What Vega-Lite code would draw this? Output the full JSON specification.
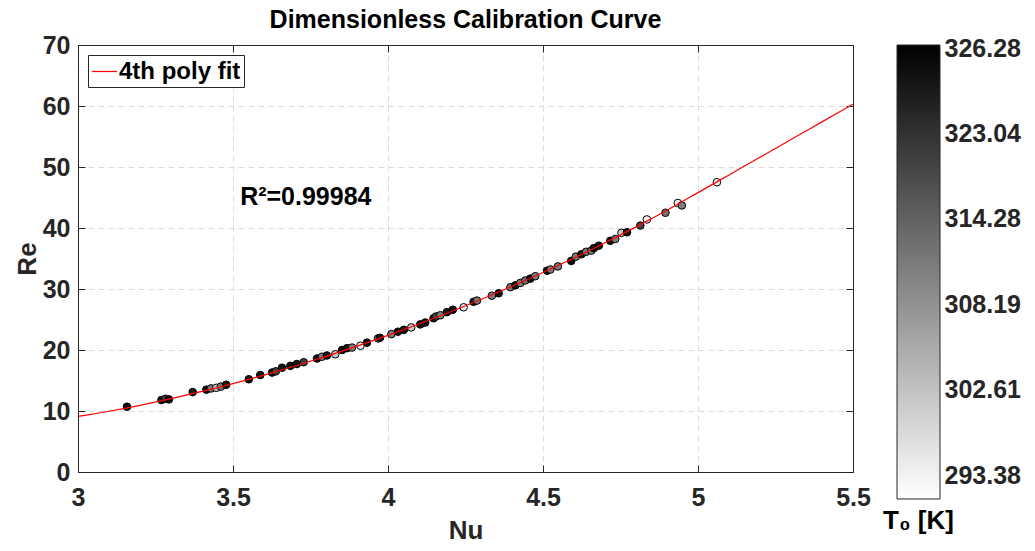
{
  "$schema": "https://vega.github.io/schema/vega-lite/v6.json",
  "background": "white",
  "padding": {"left": 14, "top": 8, "right": 5, "bottom": 5},
  "datasets": {
    "pts": [
      {"Nu": 3.158, "Re": 10.7, "T0": 325.5},
      {"Nu": 3.269, "Re": 11.8, "T0": 325.0},
      {"Nu": 3.282, "Re": 12.0, "T0": 320.0},
      {"Nu": 3.293, "Re": 11.9, "T0": 325.5},
      {"Nu": 3.370, "Re": 13.1, "T0": 325.0},
      {"Nu": 3.414, "Re": 13.5, "T0": 325.5},
      {"Nu": 3.429, "Re": 13.7, "T0": 311.0},
      {"Nu": 3.446, "Re": 13.8, "T0": 303.0},
      {"Nu": 3.461, "Re": 14.0, "T0": 311.5},
      {"Nu": 3.478, "Re": 14.3, "T0": 325.0},
      {"Nu": 3.551, "Re": 15.2, "T0": 325.5},
      {"Nu": 3.588, "Re": 15.9, "T0": 325.0},
      {"Nu": 3.626, "Re": 16.3, "T0": 325.5},
      {"Nu": 3.638, "Re": 16.5, "T0": 320.0},
      {"Nu": 3.658, "Re": 17.1, "T0": 325.0},
      {"Nu": 3.685, "Re": 17.4, "T0": 325.5},
      {"Nu": 3.706, "Re": 17.7, "T0": 325.0},
      {"Nu": 3.728, "Re": 18.0, "T0": 320.5},
      {"Nu": 3.771, "Re": 18.6, "T0": 325.5},
      {"Nu": 3.787, "Re": 18.9, "T0": 311.0},
      {"Nu": 3.803, "Re": 19.1, "T0": 325.0},
      {"Nu": 3.830, "Re": 19.3, "T0": 302.0},
      {"Nu": 3.852, "Re": 20.0, "T0": 325.5},
      {"Nu": 3.868, "Re": 20.3, "T0": 325.0},
      {"Nu": 3.884, "Re": 20.4, "T0": 311.0},
      {"Nu": 3.911, "Re": 20.7, "T0": 295.0},
      {"Nu": 3.932, "Re": 21.2, "T0": 325.5},
      {"Nu": 3.968, "Re": 21.9, "T0": 312.0},
      {"Nu": 3.974, "Re": 22.0, "T0": 325.0},
      {"Nu": 4.011, "Re": 22.6, "T0": 311.0},
      {"Nu": 4.032, "Re": 23.0, "T0": 325.5},
      {"Nu": 4.051, "Re": 23.3, "T0": 325.0},
      {"Nu": 4.075, "Re": 23.7, "T0": 302.0},
      {"Nu": 4.104, "Re": 24.2, "T0": 325.5},
      {"Nu": 4.120, "Re": 24.5, "T0": 325.0},
      {"Nu": 4.147, "Re": 25.2, "T0": 325.5},
      {"Nu": 4.155, "Re": 25.5, "T0": 320.0},
      {"Nu": 4.169, "Re": 25.7, "T0": 311.0},
      {"Nu": 4.190, "Re": 26.2, "T0": 325.0},
      {"Nu": 4.209, "Re": 26.6, "T0": 325.5},
      {"Nu": 4.244, "Re": 27.0, "T0": 296.0},
      {"Nu": 4.276, "Re": 27.9, "T0": 325.0},
      {"Nu": 4.287, "Re": 28.1, "T0": 311.5},
      {"Nu": 4.335, "Re": 28.9, "T0": 311.0},
      {"Nu": 4.357, "Re": 29.3, "T0": 325.5},
      {"Nu": 4.395, "Re": 30.3, "T0": 312.0},
      {"Nu": 4.411, "Re": 30.6, "T0": 325.0},
      {"Nu": 4.427, "Re": 31.0, "T0": 311.0},
      {"Nu": 4.443, "Re": 31.4, "T0": 312.5},
      {"Nu": 4.459, "Re": 31.7, "T0": 325.5},
      {"Nu": 4.475, "Re": 32.1, "T0": 311.0},
      {"Nu": 4.513, "Re": 33.0, "T0": 325.0},
      {"Nu": 4.524, "Re": 33.2, "T0": 311.5},
      {"Nu": 4.548, "Re": 33.7, "T0": 311.0},
      {"Nu": 4.591, "Re": 34.6, "T0": 325.5},
      {"Nu": 4.606, "Re": 35.3, "T0": 311.0},
      {"Nu": 4.624, "Re": 35.7, "T0": 325.0},
      {"Nu": 4.639, "Re": 36.1, "T0": 312.0},
      {"Nu": 4.656, "Re": 36.3, "T0": 311.0},
      {"Nu": 4.664, "Re": 36.7, "T0": 325.5},
      {"Nu": 4.680, "Re": 37.1, "T0": 325.0},
      {"Nu": 4.717, "Re": 37.9, "T0": 325.5},
      {"Nu": 4.733, "Re": 38.2, "T0": 311.0},
      {"Nu": 4.753, "Re": 39.2, "T0": 301.0},
      {"Nu": 4.771, "Re": 39.3, "T0": 325.0},
      {"Nu": 4.814, "Re": 40.4, "T0": 320.0},
      {"Nu": 4.835, "Re": 41.4, "T0": 294.0},
      {"Nu": 4.895, "Re": 42.5, "T0": 312.0},
      {"Nu": 4.935, "Re": 44.1, "T0": 294.0},
      {"Nu": 4.948, "Re": 43.7, "T0": 311.0},
      {"Nu": 5.061, "Re": 47.5, "T0": 293.6}
    ],
    "fit": [
      {"Nu": 3.0, "Re": 9.10}, {"Nu": 3.1, "Re": 9.96}, {"Nu": 3.2, "Re": 10.93},
      {"Nu": 3.3, "Re": 12.02}, {"Nu": 3.4, "Re": 13.21}, {"Nu": 3.5, "Re": 14.50},
      {"Nu": 3.6, "Re": 15.89}, {"Nu": 3.7, "Re": 17.38}, {"Nu": 3.8, "Re": 18.96},
      {"Nu": 3.9, "Re": 20.63}, {"Nu": 4.0, "Re": 22.40}, {"Nu": 4.1, "Re": 24.26},
      {"Nu": 4.2, "Re": 26.22}, {"Nu": 4.3, "Re": 28.28}, {"Nu": 4.4, "Re": 30.44},
      {"Nu": 4.5, "Re": 32.70}, {"Nu": 4.6, "Re": 35.07}, {"Nu": 4.7, "Re": 37.57},
      {"Nu": 4.8, "Re": 40.18}, {"Nu": 4.9, "Re": 42.92}, {"Nu": 5.0, "Re": 45.80},
      {"Nu": 5.1, "Re": 48.70}, {"Nu": 5.2, "Re": 51.60}, {"Nu": 5.3, "Re": 54.50},
      {"Nu": 5.4, "Re": 57.40}, {"Nu": 5.5, "Re": 60.30}
    ],
    "ann": [
      {"Nu": 3.523, "Re": 43.8, "label": "R²=0.99984"}
    ],
    "cbar": [
      {"lo": 290.79, "hi": 326.39}
    ]
  },
  "config": {
    "font": "Liberation Sans",
    "view": {"stroke": null},
    "axis": {
      "labelFont": "Liberation Sans",
      "labelFontSize": 25,
      "labelFontWeight": "bold",
      "labelColor": "#262626",
      "titleFont": "Liberation Sans",
      "titleFontSize": 26,
      "titleFontWeight": "bold",
      "titleColor": "#262626",
      "domainColor": "#262626",
      "domainWidth": 1,
      "tickColor": "#262626",
      "tickWidth": 1,
      "labelFlush": false,
      "labelOverlap": false
    }
  },
  "bounds": "flush",
  "spacing": 44,
  "hconcat": [
    {
      "width": 775,
      "height": 427,
      "title": {
        "text": "Dimensionless Calibration Curve",
        "fontSize": 25,
        "fontWeight": "bold",
        "font": "Liberation Sans",
        "color": "#000000",
        "anchor": "middle",
        "frame": "group",
        "offset": 0
      },
      "layer": [
        {
          "data": {"name": "pts"},
          "mark": {"type": "circle", "size": 58, "opacity": 1, "stroke": "#000000", "strokeWidth": 1},
          "encoding": {
            "x": {
              "field": "Nu", "type": "quantitative",
              "scale": {"domain": [3, 5.5], "nice": false, "zero": false},
              "axis": {
                "orient": "bottom", "title": "Nu", "values": [3, 3.5, 4, 4.5, 5, 5.5], "format": "~g",
                "grid": true, "gridColor": "#dcdcdc", "gridDash": [6, 4], "gridWidth": 1,
                "tickSize": -7, "labelPadding": 20, "titlePadding": 7
              }
            },
            "y": {
              "field": "Re", "type": "quantitative",
              "scale": {"domain": [0, 70], "nice": false, "zero": false},
              "axis": {
                "orient": "left", "title": "Re", "values": [0, 10, 20, 30, 40, 50, 60, 70], "format": "d",
                "grid": true, "gridColor": "#dcdcdc", "gridDash": [6, 4], "gridWidth": 1,
                "tickSize": -7, "labelPadding": 15, "titlePadding": 2
              }
            },
            "fill": {
              "field": "T0", "type": "quantitative",
              "scale": {
                "domain": [290.79, 293.38, 302.61, 308.19, 314.28, 323.04, 326.28, 326.39],
                "range": ["#ffffff", "#f2f2f2", "#c2c2c2", "#929292", "#626262", "#323232", "#020202", "#000000"],
                "interpolate": "rgb"
              },
              "legend": null
            }
          }
        },
        {
          "data": {"name": "fit"},
          "mark": {"type": "line", "interpolate": "monotone", "strokeWidth": 1.2},
          "encoding": {
            "x": {
              "field": "Nu", "type": "quantitative",
              "axis": {"orient": "top", "title": null, "labels": false, "grid": false, "values": [3, 3.5, 4, 4.5, 5, 5.5], "tickSize": -7}
            },
            "y": {
              "field": "Re", "type": "quantitative",
              "axis": {"orient": "right", "title": null, "labels": false, "grid": false, "values": [0, 10, 20, 30, 40, 50, 60, 70], "tickSize": -7}
            },
            "stroke": {
              "datum": "4th poly fit", "type": "nominal",
              "scale": {"range": ["#ff0000"]},
              "legend": {
                "orient": "top-left", "offset": 10, "title": null,
                "strokeColor": "#262626", "fillColor": "#ffffff", "padding": 3, "cornerRadius": 0,
                "symbolType": "stroke", "symbolSize": 625, "symbolStrokeWidth": 1.2,
                "labelFont": "Liberation Sans", "labelFontSize": 24, "labelFontWeight": "bold",
                "labelColor": "#000000", "labelOffset": 1
              }
            }
          }
        },
        {
          "data": {"name": "ann"},
          "mark": {"type": "text", "align": "left", "baseline": "alphabetic", "fontSize": 25, "fontWeight": "bold", "font": "Liberation Sans", "color": "#000000"},
          "encoding": {
            "x": {"field": "Nu", "type": "quantitative", "axis": null},
            "y": {"field": "Re", "type": "quantitative", "axis": null},
            "text": {"field": "label"}
          }
        }
      ],
      "resolve": {"axis": {"x": "independent", "y": "independent"}}
    },
    {
      "width": 43,
      "height": 454,
      "data": {"name": "cbar"},
      "title": {
        "text": "T₀ [K]", "orient": "bottom", "fontSize": 26, "fontWeight": "bold",
        "font": "Liberation Sans", "color": "#000000", "anchor": "middle", "frame": "group", "offset": 8
      },
      "mark": {
        "type": "rect",
        "fill": {
          "gradient": "linear", "x1": 0, "y1": 0, "x2": 0, "y2": 1,
          "stops": [{"offset": 0, "color": "#000000"}, {"offset": 1, "color": "#ffffff"}]
        },
        "stroke": "#262626",
        "strokeWidth": 1
      },
      "encoding": {
        "y": {
          "field": "lo", "type": "quantitative",
          "scale": {
            "domain": [290.79, 293.38, 302.61, 308.19, 314.28, 323.04, 326.28, 326.39],
            "range": [454, 430, 344.6, 259.2, 173.8, 88.4, 3, 0],
            "nice": false, "zero": false
          },
          "axis": {
            "orient": "right", "title": null, "values": [293.38, 302.61, 308.19, 314.28, 323.04, 326.28],
            "format": ".2f", "ticks": false, "domain": false, "grid": false, "labelPadding": 4
          }
        },
        "y2": {"field": "hi"}
      }
    }
  ]
}
